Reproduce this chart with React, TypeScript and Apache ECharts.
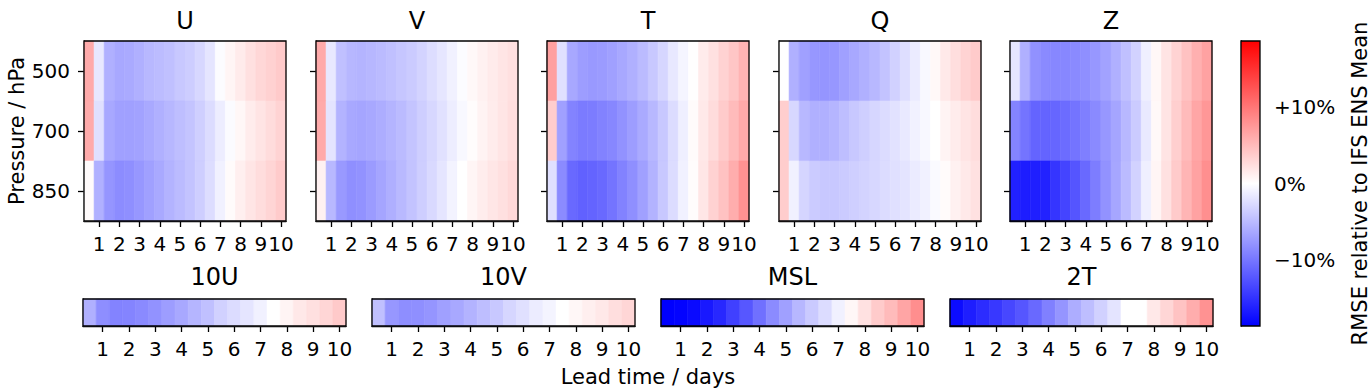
import React, { useEffect, useRef } from "react";
import * as echarts from "echarts";

// ---------- data ----------
const leadTimes = [0.5, 1, 1.5, 2, 2.5, 3, 3.5, 4, 4.5, 5, 5.5, 6, 6.5, 7, 7.5, 8, 8.5, 9, 9.5, 10];
const xTicks = [1, 2, 3, 4, 5, 6, 7, 8, 9, 10];
const levels = ["500", "700", "850"];
const colorbarTicks = [-10, 0, 10];
const VMAX = 18.7;

const U500 = [6.2, -1.7, -5.8, -6.4, -6.2, -5.8, -5.2, -4.9, -4.6, -4.0, -3.7, -2.9, -1.9, -0.2, 0.7, 1.5, 2.3, 2.9, 3.4, 3.9];
const U700 = [6.2, -2.3, -6.4, -7.0, -7.0, -6.8, -6.3, -5.8, -5.3, -4.8, -4.3, -3.5, -2.6, -1.3, -0.3, 0.6, 1.4, 2.0, 2.6, 3.2];
const U850 = [0.3, -5.8, -7.8, -8.4, -8.2, -7.6, -7.0, -6.3, -5.6, -5.0, -4.4, -3.6, -2.5, -1.0, 0.3, 1.2, 1.9, 2.5, 3.1, 3.8];

const V500 = [6.2, -1.7, -4.6, -5.3, -5.5, -5.3, -5.0, -4.6, -4.2, -3.8, -3.2, -2.5, -1.8, -1.0, -0.2, 0.5, 1.0, 1.5, 1.9, 2.3];
const V700 = [6.2, -2.0, -5.6, -6.4, -6.6, -6.4, -6.0, -5.5, -5.0, -4.3, -3.6, -2.9, -2.2, -1.3, -0.5, 0.2, 0.9, 1.4, 1.9, 2.4];
const V850 = [1.0, -5.2, -7.5, -8.2, -8.0, -7.3, -6.6, -5.9, -5.1, -4.4, -3.6, -2.8, -1.9, -0.9, 0.0, 0.7, 1.3, 1.8, 2.3, 2.8];

const T500 = [7.0, -2.3, -6.4, -7.2, -7.5, -7.3, -7.0, -6.4, -5.8, -5.0, -4.0, -3.0, -1.7, -0.7, 0.1, 1.5, 2.3, 3.3, 4.2, 5.6];
const T700 = [3.7, -7.0, -9.1, -9.7, -9.6, -9.2, -8.8, -8.0, -7.2, -6.2, -5.2, -4.0, -2.6, -1.2, 0.3, 1.6, 2.6, 3.8, 5.0, 6.2];
const T850 = [-2.3, -8.5, -11.0, -11.6, -11.4, -11.0, -10.2, -9.2, -8.2, -7.0, -5.6, -4.0, -2.6, -1.0, 0.2, 1.8, 3.3, 4.5, 6.0, 8.0];

const Q500 = [0.0, -5.8, -7.0, -7.6, -7.8, -7.6, -7.0, -6.4, -5.8, -5.2, -4.4, -3.4, -2.4, -1.5, -0.5, 0.5, 1.6, 2.4, 3.2, 3.8];
const Q700 = [3.6, -2.9, -5.2, -5.8, -5.8, -5.4, -4.8, -4.0, -3.5, -3.0, -2.6, -2.1, -1.6, -1.0, -0.5, 0.0, 0.8, 1.4, 2.0, 2.5];
const Q850 = [3.7, -1.0, -3.1, -3.8, -4.0, -4.0, -3.8, -3.5, -3.2, -2.9, -2.6, -2.3, -2.0, -1.5, -1.0, -0.4, 0.3, 1.0, 1.6, 2.2];

const Z500 = [-1.8, -5.8, -8.1, -8.6, -8.8, -8.8, -8.6, -8.2, -7.6, -6.8, -5.8, -4.6, -3.3, -1.2, 0.6, 2.0, 3.2, 4.5, 5.8, 6.8];
const Z700 = [-9.0, -10.2, -11.4, -11.4, -11.2, -10.8, -10.2, -9.4, -8.6, -7.6, -6.6, -5.2, -3.8, -1.6, 0.5, 2.0, 3.5, 5.0, 6.5, 7.6];
const Z850 = [-16.3, -16.6, -16.4, -16.2, -14.8, -13.7, -12.5, -11.0, -9.5, -8.0, -6.5, -5.0, -3.3, -1.2, 0.7, 2.2, 3.8, 5.4, 6.8, 8.2];

const U10 = [-5.8, -8.3, -9.1, -9.0, -8.6, -8.0, -7.2, -6.4, -5.4, -4.6, -3.4, -2.6, -1.9, -1.0, 0.0, 0.8, 1.7, 2.3, 3.0, 3.9];
const V10 = [-4.6, -7.6, -8.3, -8.2, -7.8, -7.0, -6.4, -5.6, -4.8, -4.0, -3.0, -2.3, -1.4, -0.8, 0.0, 0.6, 1.2, 1.7, 2.4, 3.0];
const MSL = [-18.7, -18.5, -18.0, -16.9, -15.8, -14.0, -12.3, -10.5, -8.5, -7.0, -5.3, -3.9, -2.6, -1.0, 0.6, 2.2, 3.8, 5.0, 6.6, 8.3];
const T2 = [-17.8, -16.5, -15.5, -14.6, -13.5, -12.4, -11.0, -9.3, -7.8, -6.0, -4.8, -3.4, -2.0, 0.0, 0.0, 1.7, 3.0, 4.4, 6.0, 8.0];

const upperVars = ["U", "V", "T", "Q", "Z"];
const upperData = [
  [U500, U700, U850],
  [V500, V700, V850],
  [T500, T700, T850],
  [Q500, Q700, Q850],
  [Z500, Z700, Z850],
];
const surfaceVars = ["10U", "10V", "MSL", "2T"];
const surfaceData = [U10, V10, MSL, T2];

// ---------- helpers ----------
const FONT = "DejaVu Sans";
const TICK_FS = 20;
const LABEL_FS = 21;
const TITLE_FS = 24;

function bwr(v: number): string {
  const t = Math.max(-1, Math.min(1, v / VMAX));
  if (t < 0) {
    const c = Math.round(255 * (1 + t));
    return `rgb(${c},${c},255)`;
  }
  const c = Math.round(255 * (1 - t));
  return `rgb(255,${c},${c})`;
}

function buildOption() {
  const grid: any[] = [];
  const xAxis: any[] = [];
  const yAxis: any[] = [];
  const series: any[] = [];
  const graphic: any[] = [];

  const axisLineStyle = { color: "#000", width: 1.3 };

  const addPanel = (
    rect: { left: number; top: number; width: number; height: number },
    rows: number[][],
    rowLabels: string[],
    showYLabels: boolean,
    showYTicks: boolean,
    title: string,
    titleY: number
  ) => {
    const gi = grid.length;
    grid.push({ ...rect, containLabel: false });
    xAxis.push({
      gridIndex: gi,
      type: "value",
      min: 0.25,
      max: 10.25,
      axisLine: { show: true, onZero: false, lineStyle: axisLineStyle },
      axisTick: { show: true, customValues: xTicks, length: 6, lineStyle: axisLineStyle },
      axisLabel: { customValues: xTicks, color: "#000", fontSize: TICK_FS, fontFamily: FONT, margin: 13 },
      splitLine: { show: false },
    });
    yAxis.push({
      gridIndex: gi,
      type: "category",
      data: rowLabels,
      inverse: true,
      axisLine: { show: true, lineStyle: axisLineStyle },
      axisTick: { show: showYTicks, alignWithLabel: true, length: 6, lineStyle: axisLineStyle },
      axisLabel: { show: showYLabels, color: "#000", fontSize: TICK_FS, fontFamily: FONT, margin: 14 },
      splitLine: { show: false },
      name: showYLabels ? "Pressure / hPa" : "",
      nameLocation: "middle",
      nameGap: 55,
      nameTextStyle: { color: "#000", fontSize: LABEL_FS, fontFamily: FONT },
    });
    const nRows = rows.length;
    const data: number[][] = [];
    rows.forEach((row, ri) => {
      row.forEach((v, ci) => data.push([leadTimes[ci], ri, v]));
    });
    series.push({
      type: "custom",
      xAxisIndex: gi,
      yAxisIndex: gi,
      data,
      encode: { x: 0, y: 1 },
      silent: true,
      renderItem: (params: any, api: any) => {
        const x = api.value(0);
        const yi = api.value(1);
        const v = api.value(2);
        const cs = params.coordSys;
        const h = cs.height / nRows;
        const p0 = api.coord([x - 0.25, yi]);
        const p1 = api.coord([x + 0.25, yi]);
        const col = bwr(v);
        return {
          type: "rect",
          shape: { x: p0[0], y: p0[1] - h / 2, width: p1[0] - p0[0], height: h },
          style: { fill: col, stroke: col, lineWidth: 0.6 },
        };
      },
    });
    series.push({
      type: "custom",
      xAxisIndex: gi,
      yAxisIndex: gi,
      data: [[1, 0]],
      silent: true,
      z: 5,
      renderItem: (params: any) => {
        const cs = params.coordSys;
        return {
          type: "rect",
          shape: { x: cs.x, y: cs.y, width: cs.width, height: cs.height },
          style: { fill: "none", stroke: "#000", lineWidth: 1.3 },
        };
      },
    });
    graphic.push({
      type: "text",
      x: rect.left + rect.width / 2,
      y: titleY,
      style: {
        text: title,
        fontSize: TITLE_FS,
        fontFamily: FONT,
        fill: "#000",
        textAlign: "center",
        textVerticalAlign: "middle",
      },
    });
  };

  const upperLefts = [84, 316, 547, 779, 1010];
  upperVars.forEach((name, i) => {
    addPanel(
      { left: upperLefts[i], top: 41, width: 202, height: 180 },
      upperData[i],
      levels,
      i === 0,
      true,
      name,
      21
    );
  });

  const surfLefts = [83, 372, 661, 950];
  surfaceVars.forEach((name, i) => {
    addPanel(
      { left: surfLefts[i], top: 299, width: 263, height: 27 },
      [surfaceData[i]],
      [""],
      false,
      false,
      name,
      277
    );
  });

  // colorbar
  const gi = grid.length;
  grid.push({ left: 1241, top: 41, width: 22, height: 285 });
  xAxis.push({ gridIndex: gi, type: "value", min: 0, max: 1, show: false });
  yAxis.push({
    gridIndex: gi,
    type: "value",
    position: "right",
    min: -VMAX,
    max: VMAX,
    axisLine: { show: true, lineStyle: axisLineStyle },
    axisTick: { show: true, customValues: colorbarTicks, length: 6, lineStyle: axisLineStyle },
    axisLabel: {
      customValues: colorbarTicks,
      color: "#000",
      fontSize: TICK_FS,
      fontFamily: FONT,
      margin: 14,
      formatter: (v: number) => (v > 0 ? `+${v}%` : v < 0 ? `\u2212${Math.abs(v)}%` : `${v}%`),
    },
    splitLine: { show: false },
    name: "RMSE relative to IFS ENS Mean",
    nameLocation: "middle",
    nameGap: 89,
    nameTextStyle: { color: "#000", fontSize: LABEL_FS, fontFamily: FONT },
  });
  series.push({
    type: "custom",
    xAxisIndex: gi,
    yAxisIndex: gi,
    data: [[0, 0]],
    silent: true,
    renderItem: (params: any, api: any) => {
      const p0 = api.coord([0, VMAX]);
      const p1 = api.coord([1, -VMAX]);
      return {
        type: "rect",
        shape: { x: p0[0], y: p0[1], width: p1[0] - p0[0], height: p1[1] - p0[1] },
        style: {
          fill: new echarts.graphic.LinearGradient(0, 0, 0, 1, [
            { offset: 0, color: bwr(VMAX) },
            { offset: 0.5, color: bwr(0) },
            { offset: 1, color: bwr(-VMAX) },
          ]),
        },
      };
    },
  });
  series.push({
    type: "custom",
    xAxisIndex: gi,
    yAxisIndex: gi,
    data: [[0, 0]],
    silent: true,
    z: 5,
    renderItem: (params: any) => {
      const cs = params.coordSys;
      return {
        type: "rect",
        shape: { x: cs.x, y: cs.y, width: cs.width, height: cs.height },
        style: { fill: "none", stroke: "#000", lineWidth: 1.3 },
      };
    },
  });

  graphic.push({
    type: "text",
    x: 648,
    y: 377,
    style: {
      text: "Lead time / days",
      fontSize: LABEL_FS,
      fontFamily: FONT,
      fill: "#000",
      textAlign: "center",
      textVerticalAlign: "middle",
    },
  });

  return {
    animation: false,
    backgroundColor: "#fff",
    textStyle: { fontFamily: FONT },
    grid,
    xAxis,
    yAxis,
    series,
    graphic,
  };
}

export default function App() {
  const ref = useRef<HTMLDivElement>(null);
  useEffect(() => {
    if (!ref.current) return;
    const chart = echarts.init(ref.current, undefined, { renderer: "svg" });
    chart.setOption(buildOption() as any);
    return () => chart.dispose();
  }, []);
  return (
    <div
      ref={ref}
      style={{ position: "absolute", left: 0, top: 0, width: 1371, height: 390 }}
    />
  );
}
